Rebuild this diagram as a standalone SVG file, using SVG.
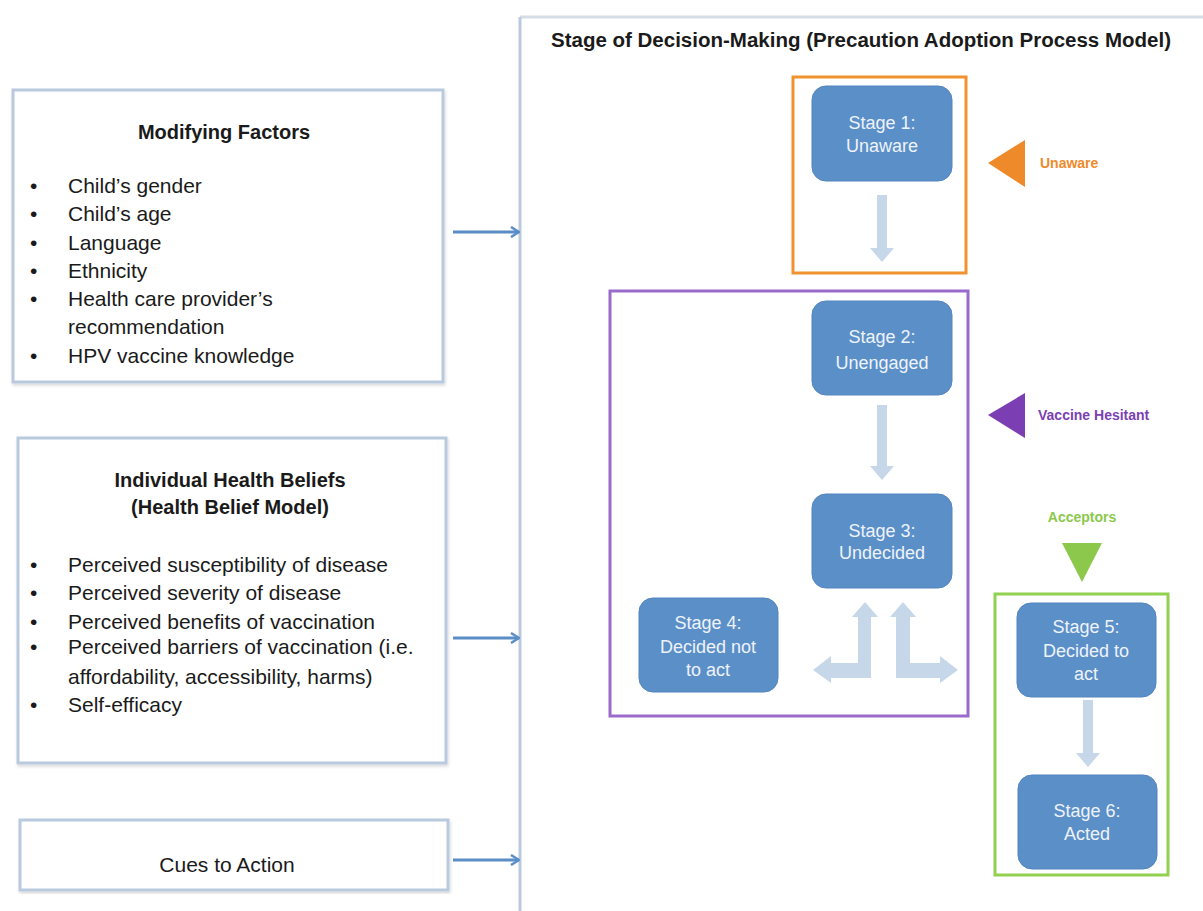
<svg xmlns="http://www.w3.org/2000/svg" width="1203" height="911" viewBox="0 0 1203 911">
<defs>
<style>
.lbox{fill:#fff;stroke:#b9cadf;stroke-width:3}
.t{font-family:"Liberation Sans",Arial,sans-serif;font-size:21px;fill:#1a1a1a}
.tb{font-family:"Liberation Sans",Arial,sans-serif;font-size:20px;font-weight:bold;fill:#1a1a1a}
.stage{fill:#5b8fc8;stroke:#5285bf;stroke-width:1}
.st{font-family:"Liberation Sans",Arial,sans-serif;font-size:18px;fill:#eef3fa;text-anchor:middle}
.flow{fill:#c7d7ea}
.conn{stroke:#5b8ec6;stroke-width:3;fill:none}
.lab{font-family:"Liberation Sans",Arial,sans-serif;font-size:14px;font-weight:bold}
</style>
<marker id="ah" markerWidth="10" markerHeight="12" refX="9" refY="6" orient="auto" markerUnits="userSpaceOnUse">
<path d="M1,1 L9,6 L1,11" fill="none" stroke="#5b8ec6" stroke-width="2.5"/>
</marker>
<filter id="sh" x="-5%" y="-5%" width="110%" height="110%">
<feDropShadow dx="1" dy="2" stdDeviation="1.5" flood-color="#000" flood-opacity="0.15"/>
</filter>
</defs>
<rect width="1203" height="911" fill="#fff"/>

<g id="panel">
<line x1="520" y1="17" x2="1203" y2="17" stroke="#d6dde6" stroke-width="3"/>
<line x1="520" y1="17" x2="520" y2="911" stroke="#b9cadf" stroke-width="3"/>
<text x="551" y="47" class="tb" textLength="620" lengthAdjust="spacingAndGlyphs">Stage of Decision-Making (Precaution Adoption Process Model)</text>
</g>

<g id="modifying">
<rect x="13" y="90" width="430" height="292" class="lbox" filter="url(#sh)"/>
<text x="224" y="139" class="tb" text-anchor="middle">Modifying Factors</text>
<g class="t">
<text x="30" y="193">•</text><text x="68" y="193">Child’s gender</text>
<text x="30" y="221">•</text><text x="68" y="221">Child’s age</text>
<text x="30" y="250">•</text><text x="68" y="250">Language</text>
<text x="30" y="278">•</text><text x="68" y="278">Ethnicity</text>
<text x="30" y="306">•</text><text x="68" y="306">Health care provider’s</text>
<text x="68" y="334">recommendation</text>
<text x="30" y="363">•</text><text x="68" y="363">HPV vaccine knowledge</text>
</g>
</g>

<g id="beliefs">
<rect x="18" y="438" width="428" height="325" class="lbox" filter="url(#sh)"/>
<text x="230" y="487" class="tb" text-anchor="middle">Individual Health Beliefs</text>
<text x="230" y="514" class="tb" text-anchor="middle">(Health Belief Model)</text>
<g class="t">
<text x="30" y="572">•</text><text x="68" y="572">Perceived susceptibility of disease</text>
<text x="30" y="600">•</text><text x="68" y="600">Perceived severity of disease</text>
<text x="30" y="629">•</text><text x="68" y="629">Perceived benefits of vaccination</text>
<text x="30" y="654">•</text><text x="68" y="654">Perceived barriers of vaccination (i.e.</text>
<text x="68" y="684">affordability, accessibility, harms)</text>
<text x="30" y="712">•</text><text x="68" y="712">Self-efficacy</text>
</g>
</g>

<g id="cues">
<rect x="20" y="820" width="428" height="70" class="lbox" filter="url(#sh)"/>
<text x="227" y="872" class="t" text-anchor="middle">Cues to Action</text>
</g>

<g id="connectors">
<line x1="453" y1="232" x2="519" y2="232" class="conn" marker-end="url(#ah)"/>
<line x1="453" y1="638" x2="519" y2="638" class="conn" marker-end="url(#ah)"/>
<line x1="453" y1="860" x2="519" y2="860" class="conn" marker-end="url(#ah)"/>
<path class="flow" d="M877,195 H887 V248 H894 L882,262 L870,248 H877 Z"/>
<path class="flow" d="M877,405 H887 V466 H894 L882,480 L870,466 H877 Z"/>
<path class="flow" d="M1083,700 H1093 V753 H1100 L1088,767 L1076,753 H1083 Z"/>
<path class="flow" d="M865,602 L878,617 H871 V678 H831 V683 L813,670 L831,656 V663 H858 V617 H852 Z"/>
<path class="flow" d="M903,602 L916,617 H910 V663 H940 V656 L958,670 L940,683 V678 H896 V617 H890 Z"/>
</g>

<g id="unaware-group">
<rect x="793" y="77" width="173" height="196" fill="none" stroke="#f0922e" stroke-width="3"/>
<polygon points="988,163 1025,140 1025,187" fill="#ef8a2b"/>
<text x="1040" y="168" class="lab" fill="#ef8a2b">Unaware</text>
</g>

<g id="stage1">
<rect x="812" y="86" width="140" height="95" rx="14" class="stage"/>
<text x="882" y="129" class="st">Stage 1:</text>
<text x="882" y="152" class="st">Unaware</text>
</g>

<g id="hesitant-group">
<rect x="610" y="291" width="358" height="425" fill="none" stroke="#9a6bcb" stroke-width="3"/>
<polygon points="988,415 1025,393 1025,438" fill="#7b3fb3"/>
<text x="1038" y="420" class="lab" fill="#7b3fb3">Vaccine Hesitant</text>
</g>

<g id="stage2">
<rect x="812" y="301" width="140" height="94" rx="14" class="stage"/>
<text x="882" y="343" class="st">Stage 2:</text>
<text x="882" y="369" class="st">Unengaged</text>
</g>

<g id="stage3">
<rect x="812" y="494" width="140" height="94" rx="14" class="stage"/>
<text x="882" y="537" class="st">Stage 3:</text>
<text x="882" y="559" class="st">Undecided</text>
</g>

<g id="stage4">
<rect x="639" y="598" width="139" height="94" rx="14" class="stage"/>
<text x="708" y="629" class="st">Stage 4:</text>
<text x="708" y="653" class="st">Decided not</text>
<text x="708" y="676" class="st">to act</text>
</g>

<g id="acceptors-group">
<text x="1082" y="522" class="lab" fill="#8cc84b" text-anchor="middle">Acceptors</text>
<polygon points="1062,543 1102,543 1082,582" fill="#8cc84b"/>
<rect x="995" y="594" width="173" height="281" fill="none" stroke="#92d050" stroke-width="3"/>
</g>

<g id="stage5">
<rect x="1017" y="603" width="139" height="94" rx="14" class="stage"/>
<text x="1086" y="633" class="st">Stage 5:</text>
<text x="1086" y="657" class="st">Decided to</text>
<text x="1086" y="680" class="st">act</text>
</g>

<g id="stage6">
<rect x="1018" y="775" width="139" height="94" rx="14" class="stage"/>
<text x="1087" y="817" class="st">Stage 6:</text>
<text x="1087" y="840" class="st">Acted</text>
</g>
</svg>
